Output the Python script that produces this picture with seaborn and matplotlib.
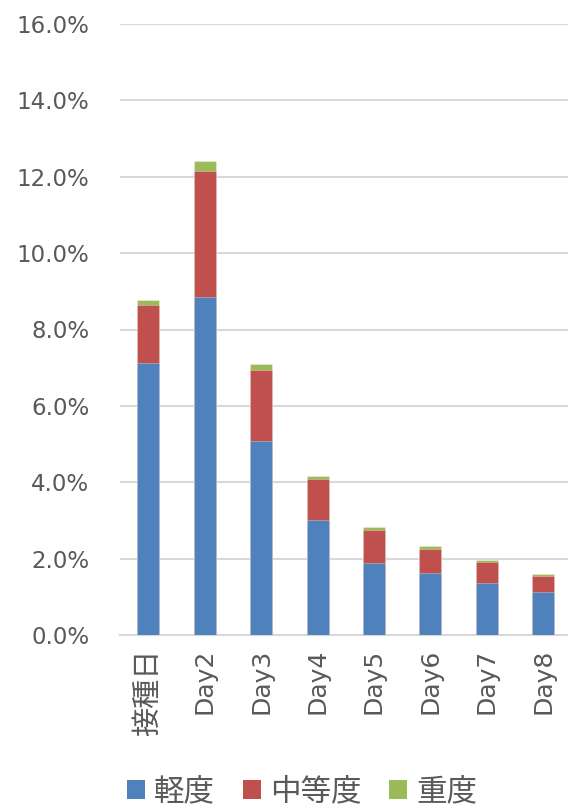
import matplotlib
matplotlib.use("Agg")
import matplotlib.pyplot as plt
from matplotlib.patches import Patch
from matplotlib.ticker import FuncFormatter, MultipleLocator
import pandas as pd
import seaborn as sns

# Share of recipients reporting each severity, by day after vaccination (%)
days = ["接種日", "Day2", "Day3", "Day4", "Day5", "Day6", "Day7", "Day8"]
mild = [7.12, 8.85, 5.08, 3.00, 1.89, 1.62, 1.35, 1.12]
moderate = [1.52, 3.30, 1.87, 1.09, 0.87, 0.64, 0.57, 0.43]
severe = [0.12, 0.27, 0.14, 0.07, 0.06, 0.07, 0.05, 0.05]
series_names = ["軽度", "中等度", "重度"]
colors = ["#4F81BD", "#C0504D", "#9BBB59"]

df = pd.DataFrame({"day": days, "mild": mild, "moderate": moderate, "severe": severe})
df["top_mild"] = df["mild"]
df["top_moderate"] = df["mild"] + df["moderate"]
df["top_severe"] = df["top_moderate"] + df["severe"]

sns.set_theme(style="white")
fonts = ["DejaVu Sans", "Noto Sans CJK JP"]
plt.rcParams["font.family"] = fonts

fig = plt.figure(figsize=(5.68, 8.09), dpi=100)
ax = fig.add_axes([120 / 568, 1 - 635 / 809, 451.5 / 568, (635 - 24) / 809])

# Stack by overdrawing cumulative totals, tallest first
for col, color in zip(["top_severe", "top_moderate", "top_mild"], colors[::-1]):
    sns.barplot(data=df, x="day", y=col, color=color, saturation=1,
                width=0.39, edgecolor=(1, 1, 1, 0.35), linewidth=0.6,
                ax=ax, zorder=3)

ax.set_xlim(-0.5, 7.5)
ax.set_ylim(0, 16)
ax.yaxis.set_major_locator(MultipleLocator(2))
ax.yaxis.set_major_formatter(FuncFormatter(lambda v, _: f"{v:.1f}%"))
ax.set_xlabel("")
ax.set_ylabel("")

ax.grid(axis="y", color="#D9D9D9", linewidth=1.5, zorder=0)
ax.grid(axis="x", visible=False)
for side in ["top", "right", "left"]:
    ax.spines[side].set_visible(False)
ax.spines["bottom"].set_color("#D9D9D9")
ax.spines["bottom"].set_linewidth(1.5)

ax.tick_params(axis="y", length=0, pad=22, labelsize=16.5, labelcolor="#595959")
ax.tick_params(axis="x", length=0, pad=10, labelsize=18, labelcolor="#595959")
for lbl in ax.get_xticklabels():
    lbl.set_rotation(90)
    lbl.set_family(fonts)
    if lbl.get_text() == "接種日":
        lbl.set_fontsize(21)
for lbl in ax.get_yticklabels():
    lbl.set_family(fonts)

handles = [Patch(facecolor=c, edgecolor="none") for c in colors]
fig.legend(handles, series_names, loc="center", bbox_to_anchor=(302 / 568, 1 - 792 / 809),
           ncol=3, frameon=False, prop={"family": fonts, "size": 22},
           handlelength=0.6, handleheight=0.6, handletextpad=0.3,
           columnspacing=0.9, labelcolor="#595959", borderpad=0.1)

fig.savefig("out.png", dpi=100)
